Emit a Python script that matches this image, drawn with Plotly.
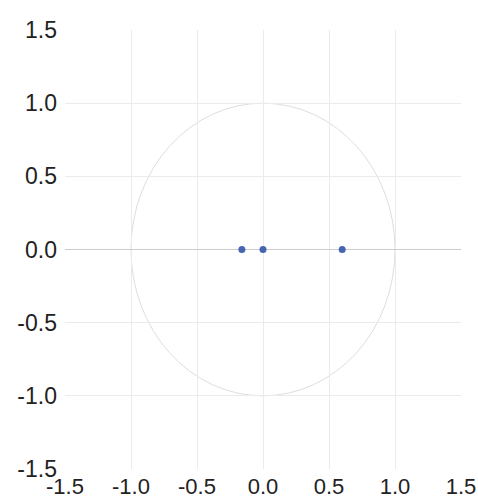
import plotly.graph_objects as go

# pole/zero locations
point_x = [-0.16, 0.0, 0.6]
point_y = [0.0, 0.0, 0.0]

unit_radius = 1.0
tick_vals = [-1.5, -1.0, -0.5, 0.0, 0.5, 1.0, 1.5]
tick_text = ["-1.5", "-1.0", "-0.5", "0.0", "0.5", "1.0", "1.5"]

fig = go.Figure()
fig.add_trace(go.Scatter(
    x=point_x, y=point_y, mode="markers",
    marker=dict(color="#4466b0", size=7),
    showlegend=False, hoverinfo="x+y",
))

fig.add_shape(type="circle", xref="x", yref="y",
              x0=-unit_radius, y0=-unit_radius, x1=unit_radius, y1=unit_radius,
              line=dict(color="#dedede", width=1), layer="below")

axis_common = dict(
    range=[-1.5, 1.5], tickvals=tick_vals, ticktext=tick_text,
    showgrid=True, gridcolor="#ebebeb", gridwidth=1,
    showline=False, ticks="", automargin=False,
)
font_family = "Liberation Sans, Arial, sans-serif"

fig.update_xaxes(**axis_common, zeroline=False, ticklabelstandoff=2,
                 tickfont=dict(family=font_family, size=22, color="#222"))
fig.update_yaxes(**axis_common, zeroline=True, zerolinecolor="#cccccc", zerolinewidth=1,
                 ticklabelstandoff=7,
                 tickfont=dict(family=font_family, size=23, color="#222"))

fig.update_layout(
    width=478, height=502,
    margin=dict(l=65, r=17, t=30, b=33, autoexpand=False),
    paper_bgcolor="white", plot_bgcolor="white",
)

fig.write_html("out.html",
               config={"displayModeBar": False},
               post_script="document.body.style.margin='0';document.body.style.overflow='hidden';")
